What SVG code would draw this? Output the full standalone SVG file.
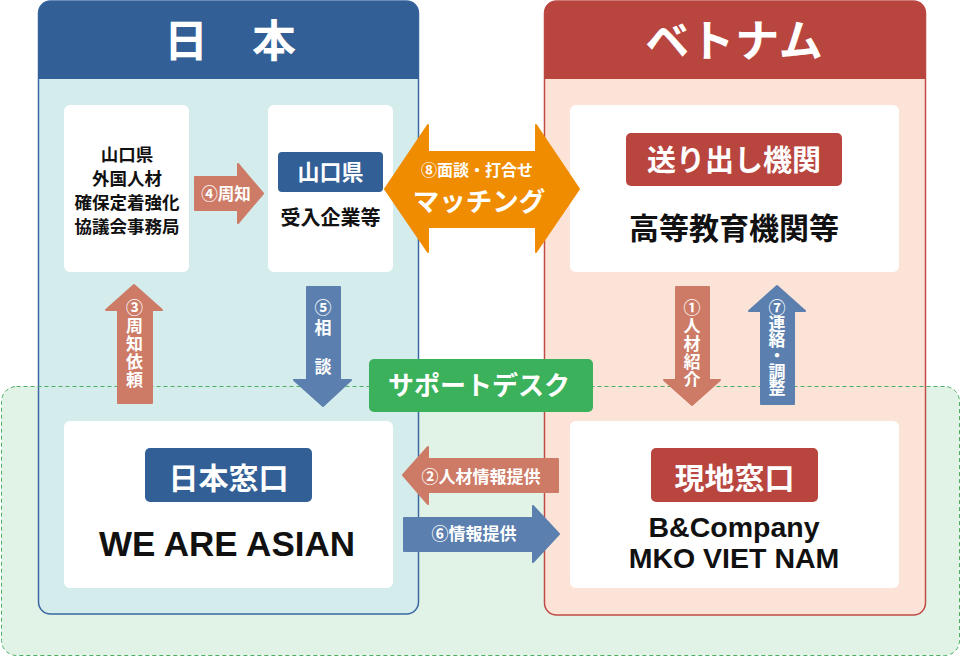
<svg xmlns="http://www.w3.org/2000/svg" width="961" height="657" viewBox="0 0 961 657">
<style>
.jp{font-family:"Noto Sans CJK JP","Noto Sans CJK SC",sans-serif;font-weight:bold}
.lat{font-family:"Liberation Sans","Arial",sans-serif;font-weight:bold}
.w{fill:#ffffff}
.k{fill:#111111}
.box{fill:#ffffff}
.sal{fill:#cd7b66;stroke:#cd7b66;stroke-width:2;stroke-linejoin:round}
.blu{fill:#5b7fae;stroke:#5b7fae;stroke-width:2;stroke-linejoin:round}
.vt{writing-mode:vertical-rl;text-orientation:upright}
</style>
<rect width="961" height="657" fill="#ffffff"/>
<g id="support-area">
<rect x="1.5" y="386.5" width="958" height="269" rx="15" fill="#e1f3e6"/>
</g>
<g id="japan">
<rect x="38.5" y="1" width="380" height="613" rx="12" fill="#d4ecec" stroke="#3b68a3" stroke-width="1.5"/>
<path d="M38.5,79 V13 a12,12 0 0 1 12,-12 H406.5 a12,12 0 0 1 12,12 V79 Z" fill="#325f96"/>
<text class="jp w" x="230" y="57" font-size="44" text-anchor="middle">日　本</text>
</g>
<g id="vietnam">
<rect x="544.5" y="1" width="381" height="614" rx="12" fill="#fce3d7" stroke="#bf4c46" stroke-width="1.5"/>
<path d="M544.5,79 V13 a12,12 0 0 1 12,-12 H913.5 a12,12 0 0 1 12,12 V79 Z" fill="#b9453f"/>
<text class="jp w" x="734.5" y="57" font-size="44" text-anchor="middle" letter-spacing="1">ベトナム</text>
</g>
<rect x="1.5" y="386.5" width="958" height="269" rx="15" fill="none" stroke="#4cae63" stroke-width="1" stroke-dasharray="4,3"/>
<g id="kyogikai">
<rect class="box" x="64" y="105" width="125" height="167" rx="6"/>
<text class="jp k" x="127" font-size="17.5" text-anchor="middle"><tspan x="127" y="161">山口県</tspan><tspan x="127" y="185">外国人材</tspan><tspan x="127" y="209">確保定着強化</tspan><tspan x="127" y="233">協議会事務局</tspan></text>
</g>
<g id="kigyo">
<rect class="box" x="268" y="105" width="125" height="167" rx="6"/>
<rect x="278" y="152" width="105" height="40" rx="4" fill="#325f96"/>
<text class="jp w" x="330.5" y="180" font-size="22" text-anchor="middle">山口県</text>
<text class="jp k" x="330.5" y="225" font-size="20" text-anchor="middle">受入企業等</text>
</g>
<g id="okuridashi">
<rect class="box" x="570" y="105" width="329" height="167" rx="6"/>
<rect x="626" y="133" width="216" height="53" rx="5" fill="#b9453f"/>
<text class="jp w" x="734" y="171" font-size="29" text-anchor="middle">送り出し機関</text>
<text class="jp k" x="734" y="238.5" font-size="30" text-anchor="middle">高等教育機関等</text>
</g>
<g id="nihon-madoguchi">
<rect class="box" x="64" y="421" width="329" height="167" rx="6"/>
<rect x="145" y="448" width="167" height="54" rx="5" fill="#325f96"/>
<text class="jp w" x="228.5" y="488.5" font-size="30" text-anchor="middle">日本窓口</text>
<text class="lat k" x="227" y="556" font-size="35" text-anchor="middle">WE ARE ASIAN</text>
</g>
<g id="genchi-madoguchi">
<rect class="box" x="570" y="421" width="329" height="167" rx="6"/>
<rect x="651" y="448" width="167" height="54" rx="5" fill="#b9453f"/>
<text class="jp w" x="734.5" y="488.5" font-size="30" text-anchor="middle">現地窓口</text>
<text class="lat k" x="734" y="536.5" font-size="28.5" text-anchor="middle">B&amp;Company</text>
<text class="lat k" x="734" y="568" font-size="28.5" text-anchor="middle">MKO VIET NAM</text>
</g>
<g id="support-desk">
<rect x="369" y="359" width="224" height="53" rx="5" fill="#3bb15b"/>
<text class="jp w" x="479" y="395" font-size="26" text-anchor="middle">サポートデスク</text>
</g>
<g id="connectors">
<path d="M385,189 L428,125 V152 H536 V125 L579,189 L536,252 V227 H428 V252 Z" fill="#f08c00" stroke="#f08c00" stroke-width="2" stroke-linejoin="round"/>
<text class="jp w" x="477" y="176" font-size="16" text-anchor="middle">⑧面談・打合せ</text>
<text class="jp w" x="479" y="211" font-size="26.5" text-anchor="middle">マッチング</text>
<path class="sal" d="M195,177 H238 V164 L263,193.5 L238,223 V210 H195 Z"/>
<text class="jp w" x="226" y="199.5" font-size="16.5" text-anchor="middle">④周知</text>
<path class="sal" d="M134,285 L162,310 H152 V403 H118 V310 H106 Z"/>
<text class="jp w vt" x="134.5" y="299.5" font-size="17" letter-spacing="1">③周知依頼</text>
<path class="blu" d="M307,287 H340 V380 H351 L323,406 L294,380 H307 Z"/>
<text class="jp w vt" x="323" y="299.5" font-size="17" letter-spacing="2.5">⑤相　談</text>
<path class="sal" d="M676,287 H709 V380 H720 L692,405 L664,380 H676 Z"/>
<text class="jp w vt" x="692" y="299.5" font-size="17" letter-spacing="1">①人材紹介</text>
<path class="blu" d="M777,286 L805,311 H794 V404 H761 V311 H749 Z"/>
<text class="jp w vt" x="777" y="299.5" font-size="17" letter-spacing="-1">⑦連絡・調整</text>
<path class="sal" d="M403,475 L428,447 V459 H558 V492 H428 V504 Z"/>
<text class="jp w" x="481" y="482.5" font-size="17" text-anchor="middle">②人材情報提供</text>
<path class="blu" d="M404,518 H533 V506 L559,534 L533,562 V551 H404 Z"/>
<text class="jp w" x="474" y="540" font-size="17" text-anchor="middle">⑥情報提供</text>
</g>
</svg>
